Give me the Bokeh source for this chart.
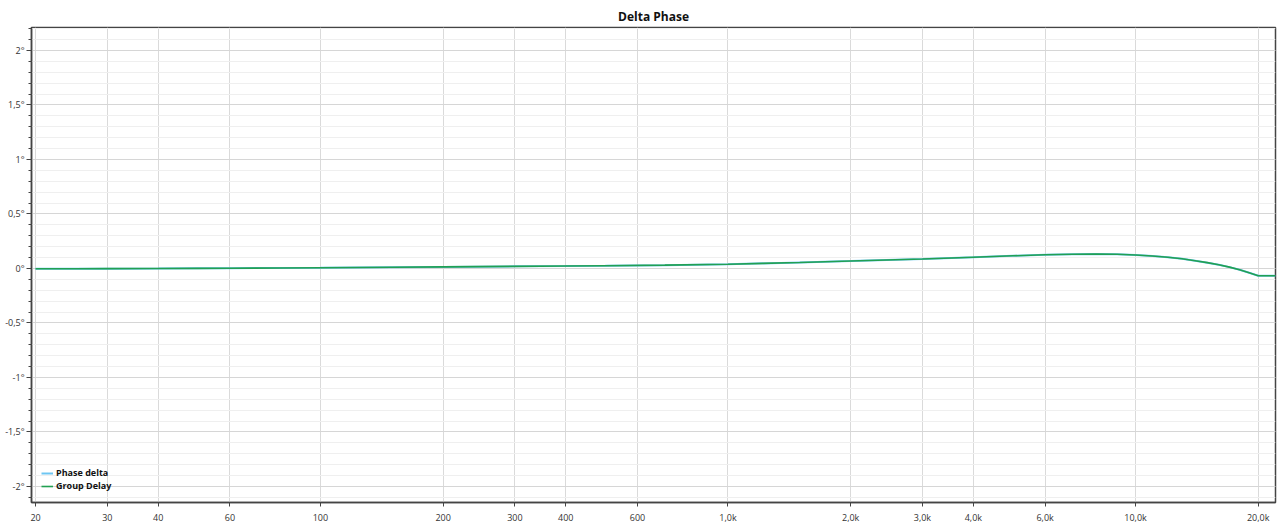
from bokeh.plotting import figure
from bokeh.models import Range1d, FixedTicker, Legend, LegendItem
from bokeh.embed import file_html
from bokeh.resources import INLINE

# ---- data ----
freq = [20, 25, 30, 40, 50, 60, 80, 100, 150, 200, 300, 400, 500, 700,
        1000, 1500, 2000, 3000, 4000, 5000, 6000, 7000, 8000, 9000, 10000,
        11000, 12000, 13000, 14000, 15000, 16000, 17000, 18000, 19000,
        20000, 21000, 22050]
phase_delta = [-0.003, -0.003, -0.002, -0.001, 0.001, 0.002, 0.004, 0.006,
               0.011, 0.014, 0.019, 0.022, 0.025, 0.030, 0.038, 0.055, 0.068,
               0.087, 0.103, 0.116, 0.125, 0.130, 0.132, 0.130, 0.123, 0.114,
               0.103, 0.089, 0.071, 0.053, 0.034, 0.012, -0.012, -0.040,
               -0.067, -0.067, -0.067]
group_delay = [-0.003, -0.003, -0.002, -0.001, 0.001, 0.002, 0.004, 0.006,
               0.011, 0.014, 0.019, 0.022, 0.025, 0.030, 0.038, 0.055, 0.068,
               0.087, 0.103, 0.116, 0.125, 0.130, 0.132, 0.130, 0.123, 0.114,
               0.103, 0.089, 0.071, 0.053, 0.034, 0.012, -0.012, -0.040,
               -0.067, -0.067, -0.067]

x_ticks = [20, 30, 40, 60, 100, 200, 300, 400, 600, 1000, 2000, 3000, 4000,
           6000, 10000, 20000]
x_labels = ["20", "30", "40", "60", "100", "200", "300", "400", "600", "1,0k",
            "2,0k", "3,0k", "4,0k", "6,0k", "10,0k", "20,0k"]
y_ticks = [-2, -1.5, -1, -0.5, 0, 0.5, 1, 1.5, 2]
y_labels = ["-2°", "-1,5°", "-1°", "-0,5°", "0°", "0,5°", "1°", "1,5°", "2°"]
y_minor = [round(-2.1 + 0.1 * i, 1) for i in range(44)]

FONT = "Open Sans"

p = figure(width=1280, height=527, x_axis_type="log",
           x_range=Range1d(19.55, 22050), y_range=Range1d(-2.147, 2.21),
           output_backend="svg", toolbar_location=None, title="Delta Phase",
           min_border_left=31, min_border_right=5, min_border_top=27,
           min_border_bottom=25)

p.background_fill_color = "white"
p.border_fill_color = "white"
p.outline_line_color = "#444444"
p.outline_line_width = 1.5

p.title.align = "center"
p.title.text_font = FONT
p.title.text_font_style = "bold"
p.title.text_font_size = "12px"
p.title.text_color = "#111111"
p.title.standoff = 5

# x axis
p.xaxis.ticker = FixedTicker(ticks=x_ticks, minor_ticks=[])
p.xaxis.major_label_overrides = dict(zip(x_ticks, x_labels))
p.xaxis.major_tick_out = 4
p.xaxis.major_tick_in = 0
p.xaxis.minor_tick_out = 0
p.xaxis.major_label_standoff = 4
p.xaxis.major_label_text_font = FONT
p.xaxis.major_label_text_font_size = "9px"
p.xaxis.major_label_text_color = "#333333"
p.xaxis.axis_line_color = "#444444"
p.xaxis.axis_line_width = 1.5
p.xaxis.major_tick_line_color = "#444444"

# y axis
p.yaxis.ticker = FixedTicker(ticks=y_ticks, minor_ticks=y_minor)
p.yaxis.major_label_overrides = dict(zip(y_ticks, y_labels))
p.yaxis.major_tick_out = 5
p.yaxis.major_tick_in = 0
p.yaxis.minor_tick_out = 3
p.yaxis.minor_tick_in = 0
p.yaxis.major_label_standoff = 2
p.yaxis.major_label_text_font = FONT
p.yaxis.major_label_text_font_size = "9px"
p.yaxis.major_label_text_color = "#333333"
p.yaxis.axis_line_color = "#444444"
p.yaxis.axis_line_width = 1.5
p.yaxis.major_tick_line_color = "#444444"
p.yaxis.minor_tick_line_color = "#444444"

# grids
p.xgrid.ticker = FixedTicker(ticks=x_ticks, minor_ticks=[])
p.xgrid.grid_line_color = "#dadada"
p.xgrid.grid_line_width = 1
p.ygrid.ticker = FixedTicker(ticks=y_ticks, minor_ticks=y_minor)
p.ygrid.grid_line_color = "#d6d6d6"
p.ygrid.minor_grid_line_color = "#efefef"

r1 = p.line(freq, phase_delta, line_color="#6ec6f2", line_width=2)
r2 = p.line(freq, group_delay, line_color="#22a052", line_width=1.6)

legend = Legend(items=[LegendItem(label="Phase delta", renderers=[r1]),
                       LegendItem(label="Group Delay", renderers=[r2])],
                location=(10, 10), background_fill_alpha=0,
                border_line_alpha=0, padding=0, margin=0, spacing=0,
                glyph_width=12, glyph_height=12, label_height=12,
                label_standoff=3, label_text_font=FONT,
                label_text_font_style="bold", label_text_font_size="9px",
                label_text_color="#111111")
p.add_layout(legend, "center")

open("out.html", "w").write(file_html(p, INLINE))
